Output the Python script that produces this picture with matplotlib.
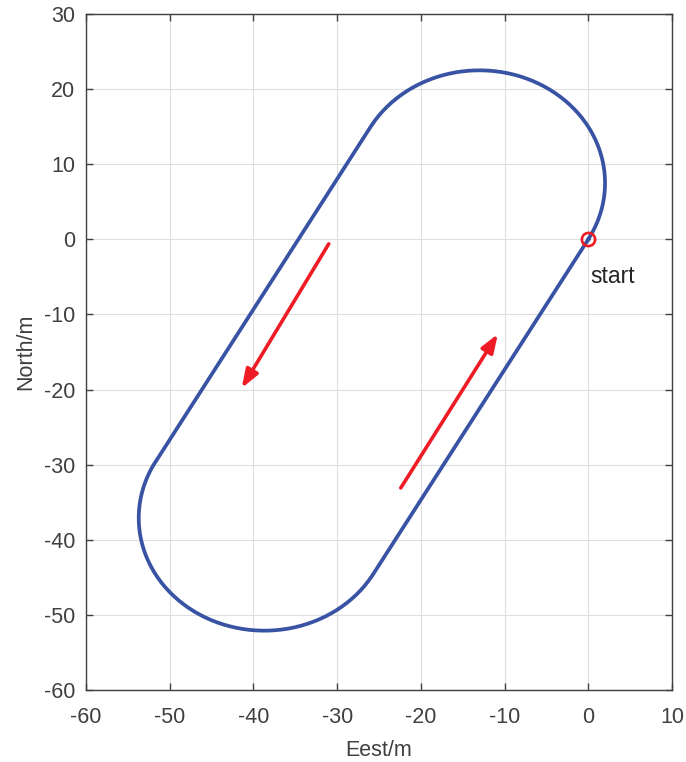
import numpy as np
import matplotlib
matplotlib.use("Agg")
import matplotlib.pyplot as plt

# ---- data ----
start_east, start_north = 0.0, 0.0
arc_center_east = [-13.0, -38.7]     # top turn, bottom turn
arc_center_north = [7.5, -37.1]
turn_radius = 15.0
arc_start_deg = [-30.0, 150.0]       # counter-clockwise half turns
arrow_tail_east = [-22.4, -31.0]
arrow_tail_north = [-33.1, -0.6]
arrow_head_east = [-10.8, -41.4]
arrow_head_north = [-12.6, -19.8]
xticks = [-60, -50, -40, -30, -20, -10, 0, 10]
yticks = [-60, -50, -40, -30, -20, -10, 0, 10, 20, 30]

# ---- build track path (two half circles joined by straights) ----
east, north = [start_east], [start_north]
for cx, cy, a0 in zip(arc_center_east, arc_center_north, arc_start_deg):
    ang = np.radians(np.linspace(a0, a0 + 180.0, 181))
    east.extend(cx + turn_radius * np.cos(ang))
    north.extend(cy + turn_radius * np.sin(ang))
east.append(start_east)
north.append(start_north)

plt.rcParams['font.family'] = ['Liberation Sans', 'DejaVu Sans']
plt.rcParams['axes.unicode_minus'] = False
fig = plt.figure(figsize=(6.86, 7.62), dpi=100)
ax = fig.add_axes([86/686, 1-690/762, (672-86)/686, (690-14)/762])

tc = '#404040'
ax.plot(east, north, color='#3953A4', lw=2.7, zorder=3)
ax.plot([start_east], [start_north], 'o', mfc='none', mec='#EE1C25',
        ms=9.5, mew=1.9, zorder=4)
ax.text(start_east + 0.2, start_north - 5.0, 'start', fontsize=16.5,
        color='#262626', va='center', ha='left')

for tx, ty, hx, hy in zip(arrow_tail_east, arrow_tail_north,
                          arrow_head_east, arrow_head_north):
    ax.annotate('', xy=(hx, hy), xytext=(tx, ty),
                arrowprops=dict(arrowstyle='-|>,head_length=1.1,head_width=0.4',
                                color='#EE1C25', lw=2.6, shrinkA=0, shrinkB=0),
                zorder=5)

ax.set_xlim(-60, 10)
ax.set_ylim(-60, 30)
ax.set_xticks(xticks)
ax.set_yticks(yticks)
ax.grid(True, color='#DFDFDF', lw=0.8)
ax.set_axisbelow(True)
ax.tick_params(direction='in', top=True, right=True, length=5, width=1,
               colors=tc, labelsize=15.5, labelcolor=tc)
ax.tick_params(axis='x', pad=12)
ax.tick_params(axis='y', pad=8)
for s in ax.spines.values():
    s.set_color(tc)
    s.set_linewidth(1.0)
ax.set_xlabel('Eest/m', fontsize=15.5, color=tc, labelpad=9)
ax.set_ylabel('North/m', fontsize=15.5, color=tc, labelpad=5)

fig.savefig('out.png', dpi=100)
